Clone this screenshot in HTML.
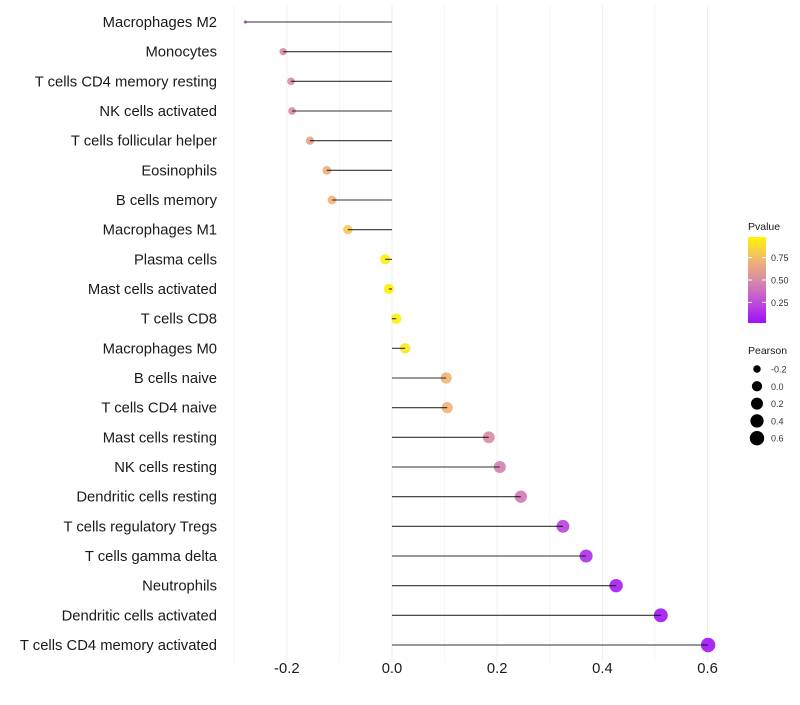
<!DOCTYPE html>
<html><head><meta charset="utf-8"><style>
body{margin:0;background:#fff;font-family:"Liberation Sans",sans-serif}
</style></head><body>
<svg id="chart" width="800" height="700" xmlns="http://www.w3.org/2000/svg"></svg>
<script>
const categories=["Macrophages M2","Monocytes","T cells CD4 memory resting","NK cells activated","T cells follicular helper","Eosinophils","B cells memory","Macrophages M1","Plasma cells","Mast cells activated","T cells CD8","Macrophages M0","B cells naive","T cells CD4 naive","Mast cells resting","NK cells resting","Dendritic cells resting","T cells regulatory  Tregs","T cells gamma delta","Neutrophils","Dendritic cells activated","T cells CD4 memory activated"];
const pearson=[-0.279,-0.207,-0.192,-0.190,-0.156,-0.124,-0.114,-0.084,-0.013,-0.006,0.008,0.025,0.103,0.105,0.184,0.205,0.245,0.325,0.369,0.426,0.511,0.601];
const pvalue=[0.3,0.5,0.5,0.5,0.62,0.7,0.72,0.82,0.98,0.98,0.97,0.93,0.72,0.72,0.5,0.45,0.42,0.2,0.12,0.05,0.02,0.01];
const xTicks=[-0.2,0,0.2,0.4,0.6];
const xMinor=[-0.3,-0.1,0.1,0.3,0.5];
const pTicks=[0.25,0.5,0.75];
const sizeTicks=[-0.2,0,0.2,0.4,0.6];

const NS="http://www.w3.org/2000/svg";
const svg=document.getElementById('chart');
const X=v=>392+v*526;
const Y=i=>22+i*(623/21);
const R=v=>1.6+5.6*Math.pow(Math.max(0,(v+0.279)/0.88),0.4);
const stops=[[0,[160,16,248]],[0.25,[190,80,215]],[0.5,[216,140,165]],[0.75,[242,185,110]],[1,[255,245,0]]];
function col(p){for(let k=1;k<stops.length;k++){if(p<=stops[k][0]){const a=stops[k-1],b=stops[k];const t=(p-a[0])/(b[0]-a[0]);const c=a[1].map((x,j)=>Math.round(x+(b[1][j]-x)*t));return `rgb(${c.join(',')})`;}}return 'rgb(255,245,0)';}
function el(t,a,parent){const e=document.createElementNS(NS,t);for(const k in a)e.setAttribute(k,a[k]);(parent||svg).appendChild(e);return e;}

const grid=el('g',{});


xMinor.forEach(v=>el('line',{x1:X(v),x2:X(v),y1:5,y2:662,stroke:'#f5f5f5','stroke-width':1},grid));
xTicks.forEach(v=>el('line',{x1:X(v),x2:X(v),y1:5,y2:662,stroke:'#efefef','stroke-width':1},grid));

const pts=el('g',{});


const segs=el('g',{});


categories.forEach((c,i)=>{
  const p=el('circle',{cx:X(pearson[i]),cy:Y(i),r:R(pearson[i]),fill:col(pvalue[i]),'fill-opacity':0.9},pts);
  
  
  const s=el('line',{x1:X(0),x2:X(pearson[i]),y1:Y(i),y2:Y(i),stroke:'#000','stroke-width':1.1,'stroke-opacity':0.8},segs);
  
  
  const t=el('text',{x:217,y:Y(i)+5,'text-anchor':'end','font-size':14.8,fill:'#1a1a1a'});
  t.textContent=c;
  
  
});
xTicks.forEach(v=>{
  const t=el('text',{x:X(v),y:673,'text-anchor':'middle','font-size':14.8,fill:'#1a1a1a'});
  t.textContent=v===0?'0.0':v.toFixed(1);
  
  
});
const defs=el('defs',{});
const lg=el('linearGradient',{id:'pg',x1:0,y1:1,x2:0,y2:0},defs);
stops.forEach(s=>el('stop',{offset:s[0],'stop-color':col(s[0])},lg));
const pl=el('g',{});


el('text',{x:748,y:230,'font-size':10.5,fill:'#1a1a1a'},pl).textContent='Pvalue';
el('rect',{x:748,y:237,width:18,height:86,fill:'url(#pg)'},pl);
const PY=p=>323-(p-0.02)/0.96*86;
pTicks.forEach(p=>{
  el('line',{x1:748,x2:752,y1:PY(p),y2:PY(p),stroke:'#fff'},pl);
  el('line',{x1:762,x2:766,y1:PY(p),y2:PY(p),stroke:'#fff'},pl);
  el('text',{x:771,y:PY(p)+3.5,'font-size':9,fill:'#333'},pl).textContent=p.toFixed(2);
});
const sl=el('g',{});


el('text',{x:748,y:354,'font-size':10.5,fill:'#1a1a1a'},sl).textContent='Pearson';
sizeTicks.forEach((v,k)=>{
  const y=369+k*17.3;
  el('circle',{cx:757,cy:y,r:R(v),fill:'#000'},sl);
  el('text',{x:771,y:y+3.5,'font-size':9,fill:'#333'},sl).textContent=v===0?'0.0':v.toFixed(1);
});
</script>
</body></html>
